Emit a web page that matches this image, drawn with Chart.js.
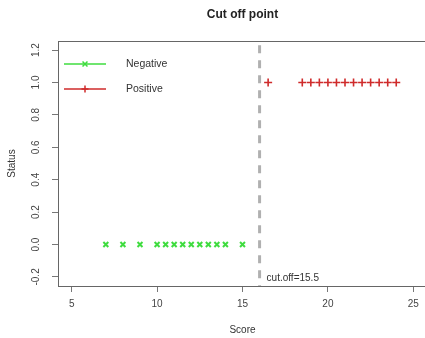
<!DOCTYPE html>
<html>
<head>
<meta charset="utf-8">
<script src="https://cdn.jsdelivr.net/npm/chart.js@4"></script>
<style>
    html, body { margin: 0; padding: 0; background: #fff; overflow: hidden; }
    #wrap { width: 433px; height: 338px; }
</style>
</head>
<body>
<div id="wrap"><canvas id="chart"></canvas></div>
<script>
// scores
let negativeScores = [7, 8, 9, 10, 10.5, 11, 11.5, 12, 12.5, 13, 13.5, 14, 15];
let positiveScores = [16.5, 18.5, 19, 19.5, 20, 20.5, 21, 21.5, 22, 22.5, 23, 23.5, 24];
let negativeStatus = 0;
let positiveStatus = 1;
let cutOff = 16;
let cutOffLabel = 'cut.off=15.5';
let xTicks = [5, 10, 15, 20, 25];
let yTicks = [-0.2, 0.0, 0.2, 0.4, 0.6, 0.8, 1.0, 1.2];

let green = '#3fdc3f';
let red = '#cf2b2b';
let font = 'Liberation Sans, Arial, sans-serif';

let extras = {
    id: 'extras',
    afterDraw(chart) {
        let ctx = chart.ctx;
        let area = chart.chartArea;
        let x = chart.scales.x;
        ctx.save();

        // box
        ctx.strokeStyle = '#666';
        ctx.lineWidth = 1;
        ctx.strokeRect(area.left + 0.5, area.top + 0.5, area.right - area.left, area.bottom - area.top);

        // title
        ctx.fillStyle = '#222';
        ctx.font = 'bold 12px ' + font;
        ctx.textAlign = 'center';
        ctx.textBaseline = 'middle';
        ctx.fillText('Cut off point', (area.left + area.right) / 2, 15);

        // cut off label
        ctx.font = '10px ' + font;
        ctx.fillStyle = '#333';
        ctx.textAlign = 'left';
        ctx.fillText(cutOffLabel, x.getPixelForValue(cutOff) + 7, area.bottom - 8);

        // legend
        let items = [
            {text: 'Negative', color: green, style: 'crossRot', y: 64},
            {text: 'Positive', color: red, style: 'cross', y: 89}
        ];
        items.forEach(it => {
            ctx.strokeStyle = it.color;
            ctx.lineWidth = 1.5;
            ctx.beginPath();
            ctx.moveTo(64, it.y);
            ctx.lineTo(106, it.y);
            ctx.stroke();
            Chart.helpers.drawPoint(ctx, {pointStyle: it.style, radius: 3.5, borderWidth: 2}, 85, it.y);
            ctx.fillStyle = '#333';
            ctx.font = '10.5px ' + font;
            ctx.textAlign = 'left';
            ctx.fillText(it.text, 126, it.y);
        });
        ctx.restore();
    }
};

new Chart(document.getElementById('chart'), {
    type: 'scatter',
    data: {
        datasets: [
            {
                label: 'cutoff',
                type: 'line',
                data: [{x: cutOff, y: -0.3}, {x: cutOff, y: 1.3}],
                borderColor: '#b0b0b0',
                borderWidth: 3,
                borderDash: [8, 7],
                pointRadius: 0,
                fill: false
            },
            {
                label: 'Negative',
                data: negativeScores.map(v => ({x: v, y: negativeStatus})),
                pointStyle: 'crossRot',
                pointRadius: 3.5,
                borderColor: green,
                backgroundColor: green,
                pointBorderWidth: 2
            },
            {
                label: 'Positive',
                data: positiveScores.map(v => ({x: v, y: positiveStatus})),
                pointStyle: 'cross',
                pointRadius: 4,
                borderColor: red,
                backgroundColor: red,
                pointBorderWidth: 1.6
            }
        ]
    },
    options: {
        responsive: true,
        maintainAspectRatio: false,
        animation: false,
        layout: {padding: {top: 41, right: 0, left: 0, bottom: 0}},
        plugins: {
            legend: {display: false},
            tooltip: {enabled: false}
        },
        scales: {
            x: {
                type: 'linear',
                min: 4.2,
                max: 25.8,
                afterBuildTicks: s => { s.ticks = xTicks.map(v => ({value: v})); },
                afterFit: s => { s.height = 52; },
                grid: {display: true, drawOnChartArea: false, drawTicks: true, tickLength: 6, color: '#777'},
                border: {display: false},
                ticks: {color: '#444', font: {family: font, size: 10}, padding: 6, maxRotation: 0},
                title: {display: true, text: 'Score', color: '#333', font: {family: font, size: 10}, padding: {top: 0, bottom: 2}}
            },
            y: {
                type: 'linear',
                min: -0.256,
                max: 1.256,
                afterBuildTicks: s => { s.ticks = yTicks.map(v => ({value: v})); },
                afterFit: s => { s.width = 58; },
                grid: {display: true, drawOnChartArea: false, drawTicks: true, tickLength: 6, color: '#777'},
                border: {display: false},
                ticks: {
                    color: '#444',
                    font: {family: font, size: 10},
                    padding: 7,
                    minRotation: 90,
                    maxRotation: 90,
                    crossAlign: 'center',
                    callback: v => v.toFixed(1)
                },
                title: {display: true, text: 'Status', color: '#333', font: {family: font, size: 10}, padding: {top: 6, bottom: 0}}
            }
        }
    },
    plugins: [extras]
});
</script>
</body>
</html>
